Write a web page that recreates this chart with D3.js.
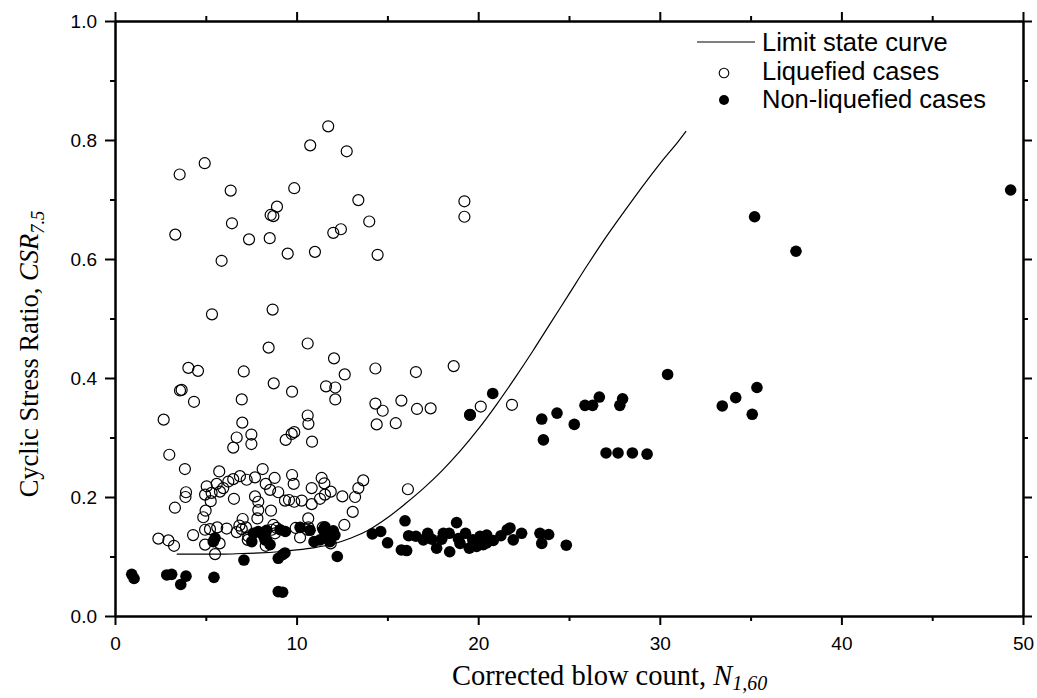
<!DOCTYPE html>
<html><head><meta charset="utf-8">
<script src="https://cdn.jsdelivr.net/npm/d3@7"></script>
<style>
body{margin:0;background:#fff;}
svg{display:block;}
.tick text{font-family:"Liberation Sans",Arial,sans-serif;}
</style></head>
<body><svg id="c" width="1037" height="698"></svg>
<script>
const xTicks=[0,10,20,30,40,50];
const xMinor=[5,15,25,35,45];
const yTicks=[0,0.2,0.4,0.6,0.8,1.0];
const yMinor=[0.1,0.3,0.5,0.7,0.9];
const legendLabels=["Limit state curve","Liquefied cases","Non-liquefied cases"];

const limitCurve=[[3.4,0.104],[5,0.104],[6,0.104],[7,0.105],[8,0.106],[9,0.108],[10,0.111],[11,0.115],[12,0.121],[13,0.131],[14,0.145],[15,0.165],[16,0.189],[17,0.215],[18,0.244],[19,0.277],[20,0.314],[21,0.355],[22,0.399],[23,0.445],[24,0.493],[25,0.541],[26,0.589],[27,0.635],[28,0.678],[29,0.72],[30,0.76],[31,0.797],[31.45,0.815]];

const liquefied=[
[11.74,0.823],[10.75,0.791],[12.76,0.781],[4.94,0.761],[3.56,0.742],[6.37,0.715],[9.87,0.719],[13.40,0.699],[8.92,0.688],[8.57,0.674],[8.72,0.672],[6.44,0.660],[3.32,0.641],[7.38,0.633],[8.52,0.635],[12.02,0.644],[12.44,0.650],[9.51,0.609],[11.01,0.612],[5.87,0.597],[14.00,0.663],[14.46,0.607],[19.24,0.697],[19.24,0.671],
[5.34,0.507],[8.68,0.515],[8.46,0.451],[10.61,0.458],[12.06,0.433],[12.65,0.406],[14.34,0.416],[16.57,0.410],[18.65,0.420],[4.04,0.417],[4.57,0.412],[7.09,0.411],[3.58,0.379],[3.67,0.380],[4.35,0.360],[6.98,0.364],[8.74,0.391],[9.75,0.377],[11.62,0.386],[12.13,0.384],[12.13,0.364],[2.68,0.330],[7.01,0.325],[10.61,0.337],[10.65,0.323],[6.70,0.300],[6.51,0.283],[7.51,0.305],[7.51,0.289],[9.40,0.296],[9.73,0.306],[9.87,0.309],[10.85,0.293],[2.99,0.271],
[14.34,0.357],[14.74,0.345],[14.41,0.322],[15.46,0.324],[15.77,0.362],[16.63,0.348],[17.38,0.349],[19.55,0.338],[20.14,0.352],[21.86,0.355],
[3.85,0.247],[5.74,0.243],[8.13,0.247],[9.75,0.237],[9.84,0.222],[8.79,0.232],[5.05,0.218],[5.60,0.222],[6.24,0.226],[6.51,0.230],[6.88,0.235],[7.25,0.229],[7.71,0.233],[5.96,0.215],[5.32,0.207],[5.78,0.209],[8.30,0.222],[8.54,0.212],[8.99,0.208],[10.83,0.215],[11.38,0.232],[11.53,0.223],[11.88,0.209],[3.91,0.208],[3.88,0.200],[3.30,0.182],[4.96,0.204],[5.27,0.193],[4.99,0.177],[4.86,0.166],[6.55,0.197],[7.71,0.201],[7.89,0.192],[7.89,0.178],[7.84,0.164],[8.59,0.177],[7.03,0.163],[9.36,0.194],[9.58,0.195],[9.87,0.192],[10.28,0.194],[10.83,0.188],[11.29,0.197],[11.56,0.204],[12.52,0.201],[13.22,0.200],[13.40,0.215],[13.67,0.228],[10.64,0.164],[13.09,0.175],[12.63,0.153],[16.13,0.213],
[2.39,0.130],[2.94,0.127],[3.25,0.118],[4.30,0.136],[4.96,0.145],[5.23,0.146],[5.63,0.149],[6.15,0.147],[6.85,0.152],[6.98,0.146],[6.70,0.141],[4.96,0.120],[5.76,0.122],[5.51,0.104],[7.21,0.149],[7.34,0.134],[7.31,0.128],[8.30,0.118],[8.72,0.153],[8.90,0.148],[8.63,0.145],[8.81,0.139],[9.95,0.148],[10.19,0.132],[10.59,0.145],[10.65,0.149],[11.44,0.149],[11.88,0.122]
];

const nonLiquefied=[
[0.92,0.070],[1.05,0.063],[2.85,0.069],[3.12,0.070],[3.91,0.067],[3.62,0.053],[5.45,0.065],[7.10,0.094],[8.99,0.097],[9.23,0.103],[9.36,0.106],[8.99,0.041],[9.23,0.040],[12.24,0.100],[5.41,0.125],[5.51,0.131],[7.53,0.125],[7.62,0.139],[7.89,0.142],[8.17,0.135],[8.35,0.144],[8.54,0.120],[8.35,0.128],[8.26,0.128],[9.09,0.145],[9.38,0.142],[10.19,0.149],[10.74,0.144],[10.96,0.125],[11.29,0.128],[11.47,0.145],[11.66,0.131],[11.84,0.125],[12.02,0.143],[12.11,0.136],[11.56,0.150],
[14.17,0.138],[14.63,0.142],[15.01,0.123],[15.97,0.160],[15.77,0.111],[16.06,0.110],[16.17,0.135],[16.57,0.134],[16.98,0.128],[17.22,0.139],[17.45,0.129],[17.71,0.114],[17.99,0.129],[18.08,0.139],[18.40,0.139],[18.43,0.108],[18.81,0.157],[18.91,0.130],[19.30,0.139],[19.00,0.122],[19.51,0.114],[19.70,0.128],[19.91,0.117],[20.10,0.134],[20.28,0.120],[20.47,0.136],[20.47,0.123],[20.83,0.127],[21.25,0.135],[21.60,0.145],[21.75,0.148],[21.93,0.128],[22.39,0.139],[23.40,0.139],[23.88,0.137],[23.50,0.122],[24.85,0.119],
[19.55,0.338],[20.80,0.374],[23.50,0.331],[23.59,0.296],[24.34,0.341],[25.29,0.322],[25.88,0.354],[26.30,0.354],[26.67,0.368],[27.04,0.274],[27.70,0.274],[28.49,0.274],[29.30,0.272],[27.80,0.354],[27.95,0.365],[30.43,0.406],[33.44,0.353],[34.18,0.367],[35.35,0.384],[35.09,0.339],[35.22,0.671],[37.50,0.613],[49.32,0.716]
];

const svg=d3.select("#c");
const L=115,R=1023,T=21,B=616;
const x=d3.scaleLinear().domain([0,50]).range([L,R]);
const y=d3.scaleLinear().domain([0,1]).range([B,T]);
const fmtY=d3.format(".1f");

function styleAxis(g){
  g.select(".domain").attr("stroke","#000").attr("stroke-width",2);
  g.selectAll(".tick line").attr("stroke","#000").attr("stroke-width",2);
  g.selectAll(".tick text").attr("fill","#000").attr("font-size","19px");
}
svg.append("g").attr("transform",`translate(0,${B})`)
  .call(d3.axisBottom(x).tickValues(xTicks).tickSize(9).tickPadding(12).tickFormat(d3.format("d")).tickSizeOuter(0)).call(styleAxis);
svg.append("g").attr("transform",`translate(0,${B})`)
  .call(d3.axisBottom(x).tickValues(xMinor).tickSize(5).tickFormat("").tickSizeOuter(0)).call(styleAxis);
svg.append("g").attr("transform",`translate(0,${T})`)
  .call(d3.axisTop(x).tickValues(xTicks).tickSize(9).tickFormat("").tickSizeOuter(0)).call(styleAxis);
svg.append("g").attr("transform",`translate(0,${T})`)
  .call(d3.axisTop(x).tickValues(xMinor).tickSize(5).tickFormat("").tickSizeOuter(0)).call(styleAxis);
svg.append("g").attr("transform",`translate(${L},0)`)
  .call(d3.axisLeft(y).tickValues(yTicks).tickSize(10).tickPadding(8).tickFormat(fmtY).tickSizeOuter(0)).call(styleAxis);
svg.append("g").attr("transform",`translate(${L},0)`)
  .call(d3.axisLeft(y).tickValues(yMinor).tickSize(5).tickFormat("").tickSizeOuter(0)).call(styleAxis);
svg.append("g").attr("transform",`translate(${R},0)`)
  .call(d3.axisRight(y).tickValues(yTicks).tickSize(9).tickFormat("").tickSizeOuter(0)).call(styleAxis);
svg.append("g").attr("transform",`translate(${R},0)`)
  .call(d3.axisRight(y).tickValues(yMinor).tickSize(5).tickFormat("").tickSizeOuter(0)).call(styleAxis);

svg.append("path").datum(limitCurve)
  .attr("fill","none").attr("stroke","#000").attr("stroke-width",1.2)
  .attr("d",d3.line().x(d=>x(d[0])).y(d=>y(d[1])).curve(d3.curveCatmullRom));

svg.append("g").selectAll("circle").data(liquefied).join("circle")
  .attr("cx",d=>x(d[0])).attr("cy",d=>y(d[1])).attr("r",5.5)
  .attr("fill","none").attr("stroke","#000").attr("stroke-width",1.2);
svg.append("g").selectAll("circle").data(nonLiquefied).join("circle")
  .attr("cx",d=>x(d[0])).attr("cy",d=>y(d[1])).attr("r",5.8)
  .attr("fill","#000");

const lg=svg.append("g").attr("font-family","'Liberation Sans',Arial,sans-serif").attr("font-size","25.5px");
lg.append("line").attr("x1",697).attr("x2",755).attr("y1",42).attr("y2",42).attr("stroke","#000").attr("stroke-width",1.2);
lg.append("circle").attr("cx",724).attr("cy",73).attr("r",4.8).attr("fill","none").attr("stroke","#000").attr("stroke-width",1.1);
lg.append("circle").attr("cx",724).attr("cy",100).attr("r",5).attr("fill","#000");
lg.selectAll("text").data(legendLabels).join("text")
  .attr("x",762).attr("y",(d,i)=>51+i*28.5).text(d=>d);

const xt=svg.append("text").attr("x",452).attr("y",685).attr("text-anchor","start")
  .attr("font-family","'Liberation Serif','Times New Roman',serif").attr("font-size","28.5px");
xt.append("tspan").text("Corrected blow count, ");
xt.append("tspan").attr("font-style","italic").text("N");
xt.append("tspan").attr("font-style","italic").attr("font-size","20px").attr("dy",5).text("1,60");

const yt=svg.append("text").attr("transform",`translate(38,354) rotate(-90)`).attr("text-anchor","middle")
  .attr("font-family","'Liberation Serif','Times New Roman',serif").attr("font-size","26.5px");
yt.append("tspan").text("Cyclic Stress Ratio, ");
yt.append("tspan").attr("font-style","italic").text("CSR");
yt.append("tspan").attr("font-style","italic").attr("font-size","18.5px").attr("dy",6).text("7.5");
</script></body></html>
